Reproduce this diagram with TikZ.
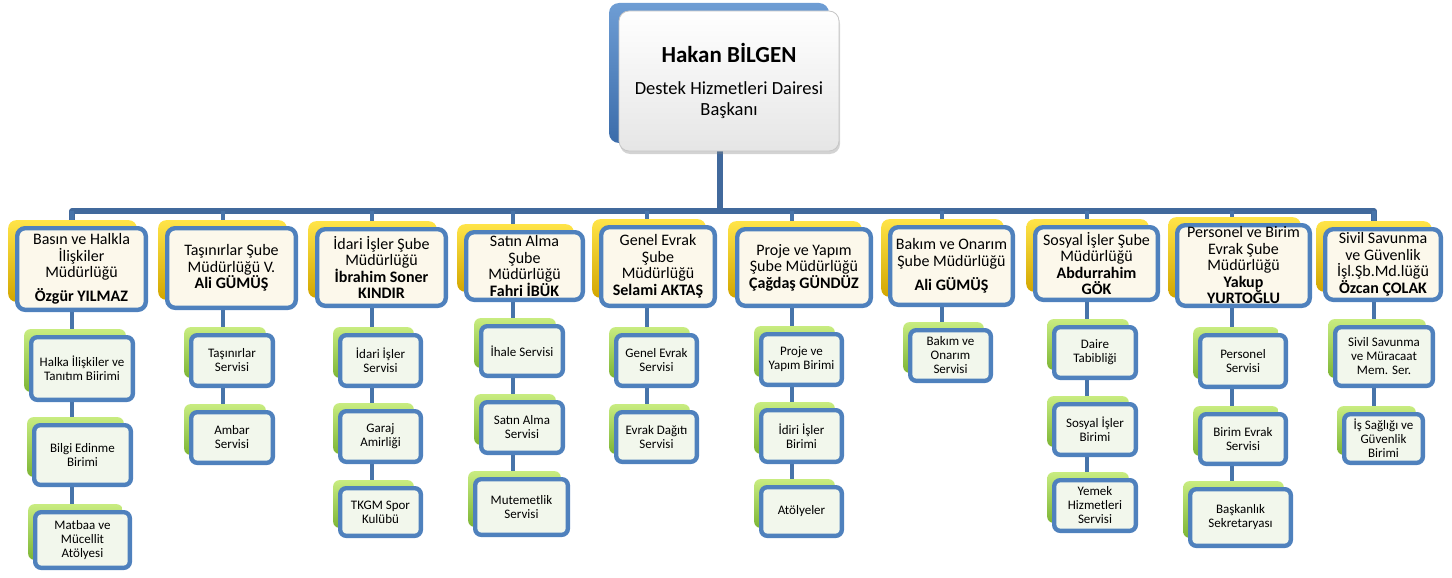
\documentclass[tikz,border=0pt]{standalone}
\usepackage{fontspec}
\setmainfont{Carlito}
\usetikzlibrary{shadows,backgrounds}

\definecolor{boxblue}{HTML}{4F81BD}
\definecolor{spineblue}{HTML}{41699C}
\definecolor{deptfill}{HTML}{FCF8EB}
\definecolor{unitfill}{HTML}{F2F7EC}
\definecolor{goldtop}{HTML}{FFE448}
\definecolor{goldbot}{HTML}{D2A600}
\definecolor{greentop}{HTML}{C8EC80}
\definecolor{greenbot}{HTML}{7DB535}
\definecolor{chieftop}{HTML}{6E9DD4}
\definecolor{chiefbot}{HTML}{3B6CAA}

\tikzset{
  chief/.style={draw=gray!45, line width=0.8pt, rounded corners=10pt,
    top color=white, bottom color=gray!20, minimum width=220pt, minimum height=140pt,
    align=center, font=\fontsize{18.5}{20.5}\selectfont,
    drop shadow={shadow xshift=1pt, shadow yshift=-3pt, opacity=0.35},
    general shadow={shadow xshift=-10pt, shadow yshift=8pt, top color=chieftop, bottom color=chiefbot}},
  dept/.style={draw=boxblue, line width=4.4pt, rounded corners=8pt, fill=deptfill,
    align=center, inner xsep=2pt, inner ysep=0pt, font=\fontsize{16}{16.5}\selectfont,
    general shadow={shadow xshift=-9pt, shadow yshift=8pt, top color=goldtop, bottom color=goldbot}},
  unit/.style={draw=boxblue, line width=4.4pt, rounded corners=6pt, fill=unitfill,
    align=center, inner xsep=2pt, inner ysep=0pt, font=\fontsize{13}{14}\selectfont,
    general shadow={shadow xshift=-7pt, shadow yshift=8pt, top color=greentop, bottom color=greenbot}},
  spine/.style={draw=spineblue, line width=5.5pt},
  link/.style={draw=boxblue!90!black, line width=4.5pt}
}

\begin{document}
\begin{tikzpicture}[x=1pt,y=-1pt]
\useasboundingbox (0,0) rectangle (1452,578);

\node[chief] (chief) at (729,81) {{\fontsize{23}{28}\selectfont\bfseries Hakan BİLGEN}\\[11.5pt]Destek Hizmetleri Dairesi\\Başkanı};

\foreach \n/\x/\y/\w/\h/\t in {
  h1/81.5/269/133/86/{Basın ve Halkla\\İlişkiler\\Müdürlüğü\\[7pt]\textbf{Özgür YILMAZ}},
  h2/231.5/268/133/84/{Taşınırlar Şube\\Müdürlüğü V.\\\textbf{Ali GÜMÜŞ}},
  h3/381.5/267.5/133/81/{İdari İşler Şube\\Müdürlüğü\\\textbf{İbrahim Soner}\\\textbf{KINDIR}},
  h4/524.5/266/121/72/{Satın Alma\\Şube\\Müdürlüğü\\\textbf{Fahri İBÜK}},
  h5/658/266.5/118/83/{Genel Evrak\\Şube\\Müdürlüğü\\\textbf{Selami AKTAŞ}},
  h6/804/267.5/138/81/{Proje ve Yapım\\Şube Müdürlüğü\\\textbf{Çağdaş GÜNDÜZ}},
  h7/951.5/266/127/82/{Bakım ve Onarım\\Şube Müdürlüğü\\[8pt]\textbf{Ali GÜMÜŞ}},
  h8/1096.5/263.5/127/77/{Sosyal İşler Şube\\Müdürlüğü\\\textbf{Abdurrahim}\\\textbf{GÖK}},
  h9/1243.5/265.5/137/85/{Personel ve Birim\\Evrak Şube\\Müdürlüğü\\\textbf{Yakup}\\\textbf{YURTOĞLU}},
  h10/1383/264.5/120/75/{Sivil Savunma\\ve Güvenlik\\İşl.Şb.Md.lüğü\\\textbf{Özcan ÇOLAK}}}
  \node[dept, minimum width=\w-4.4, minimum height=\h-4.4] (\n) at (\x,\y) {\t};

\foreach \n/\x/\y/\w/\h/\t in {
  u1a/82/368.5/106/67/{Halka İlişkiler ve\\Tanıtım Biirimi},
  u1b/82.5/455/101/64/{Bilgi Edinme\\Birimi},
  u1c/82.5/540/99/60/{Matbaa ve\\Mücellit\\Atölyesi},
  u2a/232/360.5/86/55/{Taşınırlar\\Servisi},
  u2b/232/437.5/86/55/{Ambar\\Servisi},
  u3a/380.5/360.5/85/55/{İdari İşler\\Servisi},
  u3b/380.5/436.5/85/55/{Garaj\\Amirliği},
  u3c/380.5/512/85/52/{TKGM Spor\\Kulübü},
  u4a/522/351/86/54/{İhale Servisi},
  u4b/522/427.5/86/55/{Satın Alma\\Servisi},
  u4c/521.5/507/97/60/{Mutemetlik\\Servisi},
  u5a/656.5/360.5/85/55/{Genel Evrak\\Servisi},
  u5b/656.5/437/85/54/{Evrak Dağıtı\\Servisi},
  u6a/801.5/359.5/85/55/{Proje ve\\Yapım Birimi},
  u6b/801.5/436/85/56/{İdiri İşler\\Birimi},
  u6c/801.5/511.5/85/53/{Atölyeler},
  u7a/950.5/355.5/85/55/{Bakım ve\\Onarım\\Servisi},
  u8a/1095/352.5/86/55/{Daire\\Tabibliği},
  u8b/1095/429.5/86/55/{Sosyal İşler\\Birimi},
  u8c/1095/505.5/86/55/{Yemek\\Hizmetleri\\Servisi},
  u9a/1243/361/90/56/{Personel\\Servisi},
  u9b/1243/439/90/54/{Birim Evrak\\Servisi},
  u9c/1240.5/517.5/105/61/{Başkanlık\\Sekretaryası},
  u10a/1384/356.5/102/63/{Sivil Savunma\\ve Müracaat\\Mem. Ser.},
  u10b/1383.5/438.5/83/53/{İş Sağlığı ve\\Güvenlik\\Birimi}}
  \node[unit, minimum width=\w-4.4, minimum height=\h-4.4] (\n) at (\x,\y) {\t};

\coordinate (s0) at (720,211);
\foreach \k/\x in {1/72,2/223,3/372,4/513,5/647,6/792,7/942,8/1087,9/1232,10/1374}
  \coordinate (s\k) at (\x,211);

\begin{scope}[on background layer]
  \draw[spine] (s0 |- chief.center) -- (s0);
  \draw[spine, line join=round] (s1 |- h1.center) -- (s1) -- (s10) -- (s10 |- h10.center);
  \foreach \k/\last in {1/u1c,2/u2b,3/u3c,4/u4c,5/u5b,6/u6c,7/u7a,8/u8c,9/u9c,10/u10b}
    \draw[link] (s\k) -- (s\k |- \last.center);
\end{scope}
\end{tikzpicture}
\end{document}
